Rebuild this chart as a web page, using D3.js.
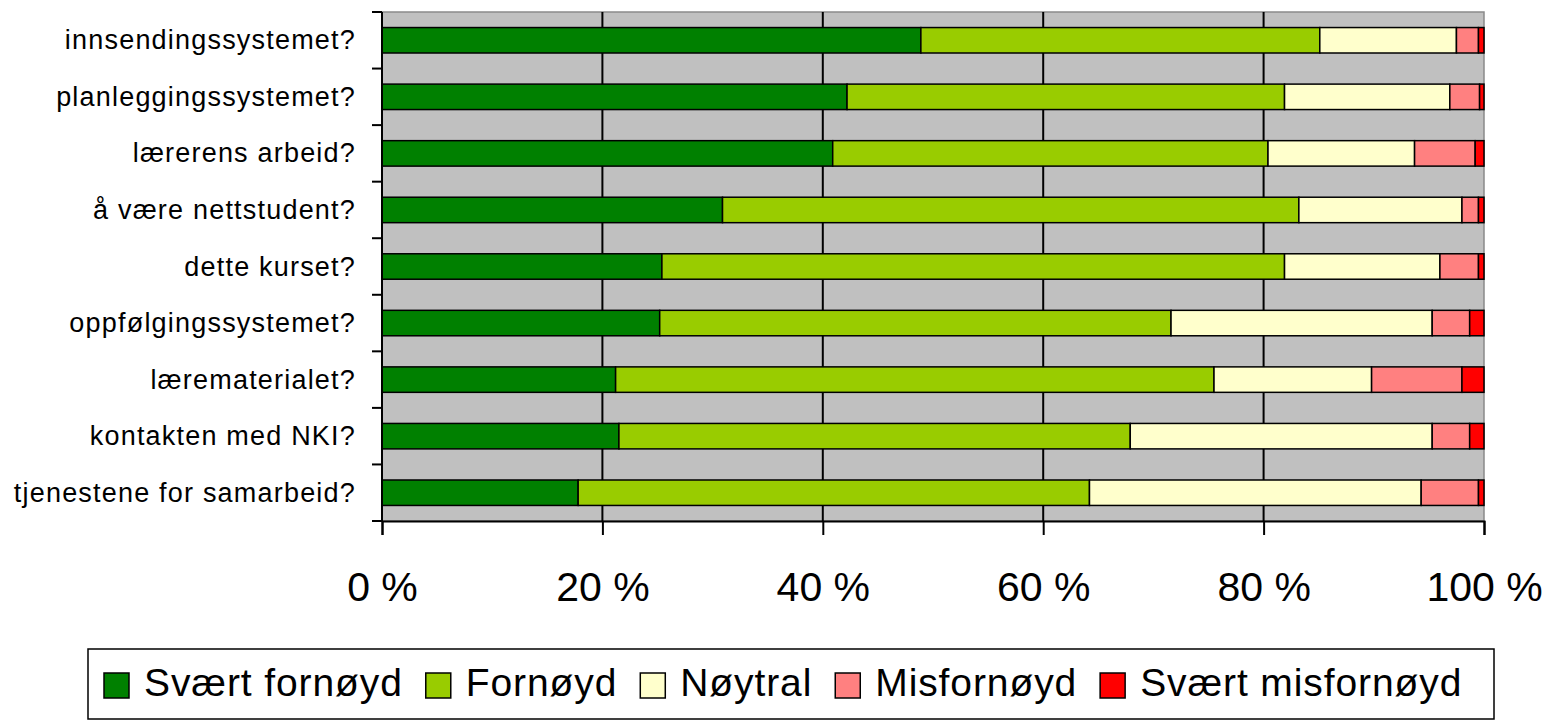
<!DOCTYPE html>
<html>
<head>
<meta charset="utf-8">
<script src="https://cdn.jsdelivr.net/npm/d3@7"></script>
<style>
  html, body { margin: 0; padding: 0; background: #ffffff; }
  svg { display: block; font-family: "Liberation Sans", Arial, sans-serif; }
</style>
</head>
<body>
<svg id="chart" width="1548" height="721"></svg>
<script>
// ---- data ----
const categories = [
  "innsendingssystemet?",
  "planleggingssystemet?",
  "lærerens arbeid?",
  "å være nettstudent?",
  "dette kurset?",
  "oppfølgingssystemet?",
  "lærematerialet?",
  "kontakten med NKI?",
  "tjenestene for samarbeid?"
];
const seriesNames = ["Svært fornøyd", "Fornøyd", "Nøytral", "Misfornøyd", "Svært misfornøyd"];
const sværtFornøyd    = [48.9, 42.2, 40.9, 30.9, 25.4, 25.2, 21.2, 21.5, 17.8];
const fornøyd         = [36.2, 39.7, 39.5, 52.3, 56.5, 46.4, 54.3, 46.4, 46.4];
const nøytral         = [12.4, 15.0, 13.3, 14.8, 14.1, 23.7, 14.3, 27.4, 30.1];
const misfornøyd      = [ 2.0,  2.7,  5.5,  1.5,  3.5,  3.4,  8.2,  3.4,  5.2];
const sværtMisfornøyd = [ 0.5,  0.4,  0.8,  0.5,  0.5,  1.3,  2.0,  1.3,  0.5];
const tickValues = [0, 0.2, 0.4, 0.6, 0.8, 1.0];
const tickLabels = ["0 %", "20 %", "40 %", "60 %", "80 %", "100 %"];
const colors = ["#008000", "#99CC00", "#FFFFCC", "#FF8080", "#FF0000"];

// ---- build table ----
const seriesValues = [sværtFornøyd, fornøyd, nøytral, misfornøyd, sværtMisfornøyd];
const table = categories.map((c, i) => {
  const row = { category: c };
  seriesNames.forEach((s, j) => row[s] = seriesValues[j][i]);
  return row;
});
const stacked = d3.stack().keys(seriesNames).offset(d3.stackOffsetExpand)(table);

// ---- layout ----
const svg = d3.select("#chart");
const pLeft = 382, pRight = 1484, pTop = 12, pBottom = 521;
const x = d3.scaleLinear().domain([0, 1]).range([pLeft, pRight]);
const y = d3.scaleBand().domain(categories).range([pTop, pBottom]).padding(0);
const barH = y.bandwidth() * 0.45;
const color = d3.scaleOrdinal().domain(seriesNames).range(colors);

// plot background
svg.append("rect")
  .attr("x", pLeft).attr("y", pTop)
  .attr("width", pRight - pLeft).attr("height", pBottom - pTop)
  .attr("fill", "#C0C0C0")
  .attr("stroke", "#8a8a8a").attr("stroke-width", 1.5);

// gridlines
svg.append("g")
  .selectAll("line")
  .data(tickValues.filter(v => v > 0 && v < 1))
  .join("line")
  .attr("x1", d => x(d)).attr("x2", d => x(d))
  .attr("y1", pTop).attr("y2", pBottom)
  .attr("stroke", "#000").attr("stroke-width", 2);

// bars
svg.append("g")
  .selectAll("g")
  .data(stacked)
  .join("g")
  .attr("fill", d => color(d.key))
  .selectAll("rect")
  .data(d => d)
  .join("rect")
  .attr("x", d => x(d[0]))
  .attr("width", d => x(d[1]) - x(d[0]))
  .attr("y", d => y(d.data.category) + (y.bandwidth() - barH) / 2)
  .attr("height", barH)
  .attr("stroke", "#000")
  .attr("stroke-width", 1.5);

// y axis
const yAxisG = svg.append("g").attr("transform", `translate(${pLeft},0)`);
yAxisG.append("line")
  .attr("x1", 0).attr("x2", 0).attr("y1", pTop).attr("y2", pBottom)
  .attr("stroke", "#000").attr("stroke-width", 2);
const boundaries = categories.map(c => y(c)).concat([pBottom]);
yAxisG.selectAll("line.tick")
  .data(boundaries)
  .join("line")
  .attr("class", "tick")
  .attr("x1", -10).attr("x2", 0)
  .attr("y1", d => d).attr("y2", d => d)
  .attr("stroke", "#000").attr("stroke-width", 2);
svg.append("g")
  .selectAll("text")
  .data(categories)
  .join("text")
  .attr("x", 356)
  .attr("y", d => y(d) + y.bandwidth() / 2 + 9)
  .attr("text-anchor", "end")
  .attr("font-size", 27)
  .attr("letter-spacing", 1.2)
  .attr("fill", "#000")
  .text(d => d);

// x axis
const xAxis = d3.axisBottom(x)
  .tickValues(tickValues)
  .tickFormat((d, i) => tickLabels[i])
  .tickSize(14)
  .tickPadding(0);
const xg = svg.append("g").attr("transform", `translate(0,${pBottom})`).call(xAxis);
xg.select(".domain").attr("stroke", "#000").attr("stroke-width", 2);
xg.selectAll(".tick line").attr("stroke", "#000").attr("stroke-width", 2);
xg.selectAll(".tick text")
  .attr("y", 80)
  .attr("dy", 0)
  .attr("font-size", 41)
  .attr("font-family", "'Liberation Sans', Arial, sans-serif")
  .attr("fill", "#000");

// legend
const legend = svg.append("g");
legend.append("rect")
  .attr("x", 88).attr("y", 649)
  .attr("width", 1494 - 88).attr("height", 70)
  .attr("fill", "#fff").attr("stroke", "#000").attr("stroke-width", 1.5);
let lx = 104;
seriesNames.forEach((s, i) => {
  legend.append("rect")
    .attr("x", lx).attr("y", 673)
    .attr("width", 25).attr("height", 25)
    .attr("fill", colors[i])
    .attr("stroke", "#000").attr("stroke-width", 1.5);
  const t = legend.append("text")
    .attr("x", lx + 40).attr("y", 696)
    .attr("font-size", 39)
    .attr("letter-spacing", 0.9)
    .attr("fill", "#000")
    .text(s);
  const w = t.node().getComputedTextLength();
  lx = lx + 40 + w + 23;
});
</script>
</body>
</html>
